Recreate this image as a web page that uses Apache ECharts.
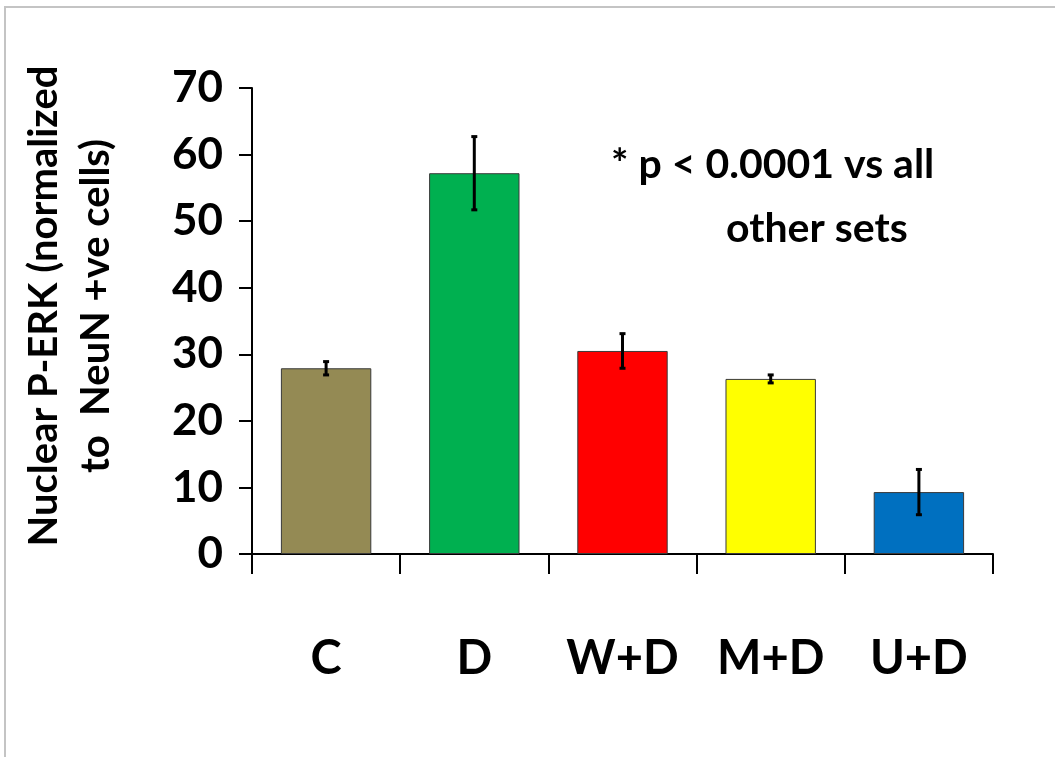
<!DOCTYPE html>
<html>
<head>
<meta charset="utf-8">
<script src="https://cdn.jsdelivr.net/npm/echarts@6/dist/echarts.min.js"></script>
<style>
  html, body { margin: 0; padding: 0; background: #fff; }
  #frame { position: absolute; left: 4px; top: 6px; width: 1051px; height: 751px;
           border-left: 2px solid #c4c4c4; border-top: 2px solid #c4c4c4; box-sizing: border-box; }
  #chart { position: absolute; left: 0; top: 0; width: 1055px; height: 757px; }
</style>
</head>
<body>
<div id="frame"></div>
<div id="chart"></div>
<script>
const categories = ['C', 'D', 'W+D', 'M+D', 'U+D'];
const values = [27.9, 57.2, 30.5, 26.3, 9.3];
const errors = [1.0, 5.5, 2.6, 0.6, 3.4];
const colors = ['#948A54', '#00B050', '#FF0000', '#FFFF00', '#0070C0'];
const yTicks = { min: 0, max: 70, interval: 10 };
const yTitle = 'Nuclear P-ERK (normalized\nto  NeuN +ve cells)';
const noteLines = ['* p < 0.0001 vs all', 'other sets'];

const FONT = 'Lato, "Open Sans", sans-serif';
const chart = echarts.init(document.getElementById('chart'), null, { renderer: 'canvas' });

const errData = values.map((v, i) => [i, v - errors[i], v + errors[i]]);

chart.setOption({
  animation: false,
  backgroundColor: 'transparent',
  grid: { left: 252, right: 62, top: 88, bottom: 203, containLabel: false },
  xAxis: {
    type: 'category',
    data: categories,
    axisLine: { show: true, lineStyle: { color: '#000', width: 2 } },
    axisTick: { show: true, length: 20, lineStyle: { color: '#000', width: 2 } },
    axisLabel: { margin: 81, fontFamily: FONT, fontWeight: 'bold', fontSize: 47, color: '#000' },
    splitLine: { show: false }
  },
  yAxis: {
    type: 'value',
    min: yTicks.min, max: yTicks.max, interval: yTicks.interval,
    axisLine: { show: true, lineStyle: { color: '#000', width: 2 } },
    axisTick: { show: true, length: 13, lineStyle: { color: '#000', width: 2 } },
    axisLabel: { margin: 29, fontFamily: FONT, fontWeight: 'bold', fontSize: 44, color: '#000' },
    splitLine: { show: false }
  },
  graphic: [
    {
      type: 'text',
      x: 70, y: 306,
      rotation: Math.PI / 2,
      style: {
        text: yTitle,
        font: 'bold 40px ' + FONT,
        fill: '#000',
        align: 'center',
        verticalAlign: 'middle',
        lineHeight: 52
      }
    },
    {
      type: 'text', left: 611, top: 144,
      style: { text: noteLines[0], font: 'bold 41px ' + FONT, fill: '#000' }
    },
    {
      type: 'text', left: 726, top: 208,
      style: { text: noteLines[1], font: 'bold 41px ' + FONT, fill: '#000' }
    }
  ],
  series: [
    {
      type: 'bar',
      data: values.map((v, i) => ({ value: v, itemStyle: { color: colors[i] } })),
      barCategoryGap: '39%',
      itemStyle: { borderColor: '#3a3a3a', borderWidth: 1 }
    },
    {
      type: 'custom',
      data: errData,
      z: 10,
      renderItem: function (params, api) {
        const x = api.value(0);
        const lo = api.coord([x, api.value(1)]);
        const hi = api.coord([x, api.value(2)]);
        const cap = 3;
        const st = { stroke: '#000', lineWidth: 3 };
        return {
          type: 'group',
          children: [
            { type: 'line', shape: { x1: hi[0], y1: hi[1], x2: lo[0], y2: lo[1] }, style: st },
            { type: 'line', shape: { x1: hi[0] - cap, y1: hi[1], x2: hi[0] + cap, y2: hi[1] }, style: st },
            { type: 'line', shape: { x1: lo[0] - cap, y1: lo[1], x2: lo[0] + cap, y2: lo[1] }, style: st }
          ]
        };
      }
    }
  ]
});
</script>
</body>
</html>
